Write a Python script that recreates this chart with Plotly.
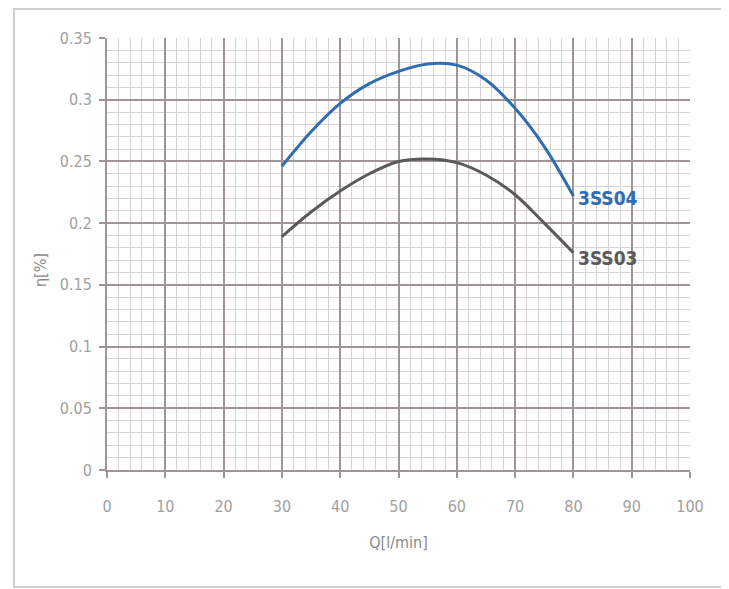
import plotly.graph_objects as go

q = [30, 35, 40, 45, 50, 55, 60, 65, 70, 75, 80]
eta_3ss04 = [0.246, 0.274, 0.297, 0.313, 0.323, 0.329, 0.328, 0.316, 0.293, 0.262, 0.222]
eta_3ss03 = [0.189, 0.209, 0.226, 0.240, 0.250, 0.252, 0.249, 0.239, 0.223, 0.200, 0.176]
series_names = ["3SS04", "3SS03"]
colors = ["#2f6db0", "#5a5a5a"]

font_family = "DejaVu Sans Condensed, Liberation Sans Narrow, Liberation Sans, sans-serif"

fig = go.Figure()
for name, vals, col in zip(series_names, [eta_3ss04, eta_3ss03], colors):
    fig.add_trace(go.Scatter(x=q, y=vals, mode="lines", name=name,
                             line=dict(color=col, width=3, shape="spline", smoothing=1.0),
                             showlegend=False))
    fig.add_annotation(x=q[-1], y=vals[-1], text="<b>" + name + "</b>", showarrow=False,
                       xanchor="left", yanchor="middle", xshift=3,
                       yshift=-2 if name == "3SS04" else -5,
                       font=dict(family=font_family, size=19, color=col))

# y-axis title as a rotated annotation (sits slightly below the plot centre in the reference)
fig.add_annotation(xref="paper", yref="paper", x=-0.113, y=0.463, text="η[%]",
                   textangle=-90, showarrow=False, xanchor="center", yanchor="middle",
                   font=dict(family=font_family, size=16, color="#8a8a8a"))

major = "#a09498"
minor = "#d9d2d5"
tickfont = dict(family=font_family, size=16, color="#a0a0a0")

fig.update_layout(
    width=721, height=581,
    margin=dict(l=99, r=39, t=30, b=119),
    paper_bgcolor="white", plot_bgcolor="white",
    xaxis=dict(range=[0, 100], dtick=10, tick0=0, showgrid=True, gridcolor=major, gridwidth=2,
               minor=dict(dtick=2, showgrid=True, gridcolor=minor, gridwidth=1),
               ticks="outside", ticklen=6, tickcolor=major, tickwidth=2,
               showline=True, linecolor=major, linewidth=2, mirror=False,
               zeroline=False, tickfont=tickfont, ticklabelstandoff=15,
               title=dict(text="Q[l/min]", font=dict(family=font_family, size=16, color="#8a8a8a"), standoff=22)),
    yaxis=dict(range=[0, 0.35], dtick=0.05, tick0=0, showgrid=True, gridcolor=major, gridwidth=2,
               minor=dict(dtick=0.01, showgrid=True, gridcolor=minor, gridwidth=1),
               ticks="outside", ticklen=6, tickcolor=major, tickwidth=2,
               showline=True, linecolor=major, linewidth=2,
               zeroline=False, tickfont=tickfont, tickformat="~g", ticklabelstandoff=4),
    shapes=[dict(type="rect", xref="paper", yref="paper",
                 x0=-0.1595, x1=1.0549, y0=-0.2708, y1=1.067,
                 line=dict(color="#cfcfcf", width=2))],
)

fig.write_html("out.html")
